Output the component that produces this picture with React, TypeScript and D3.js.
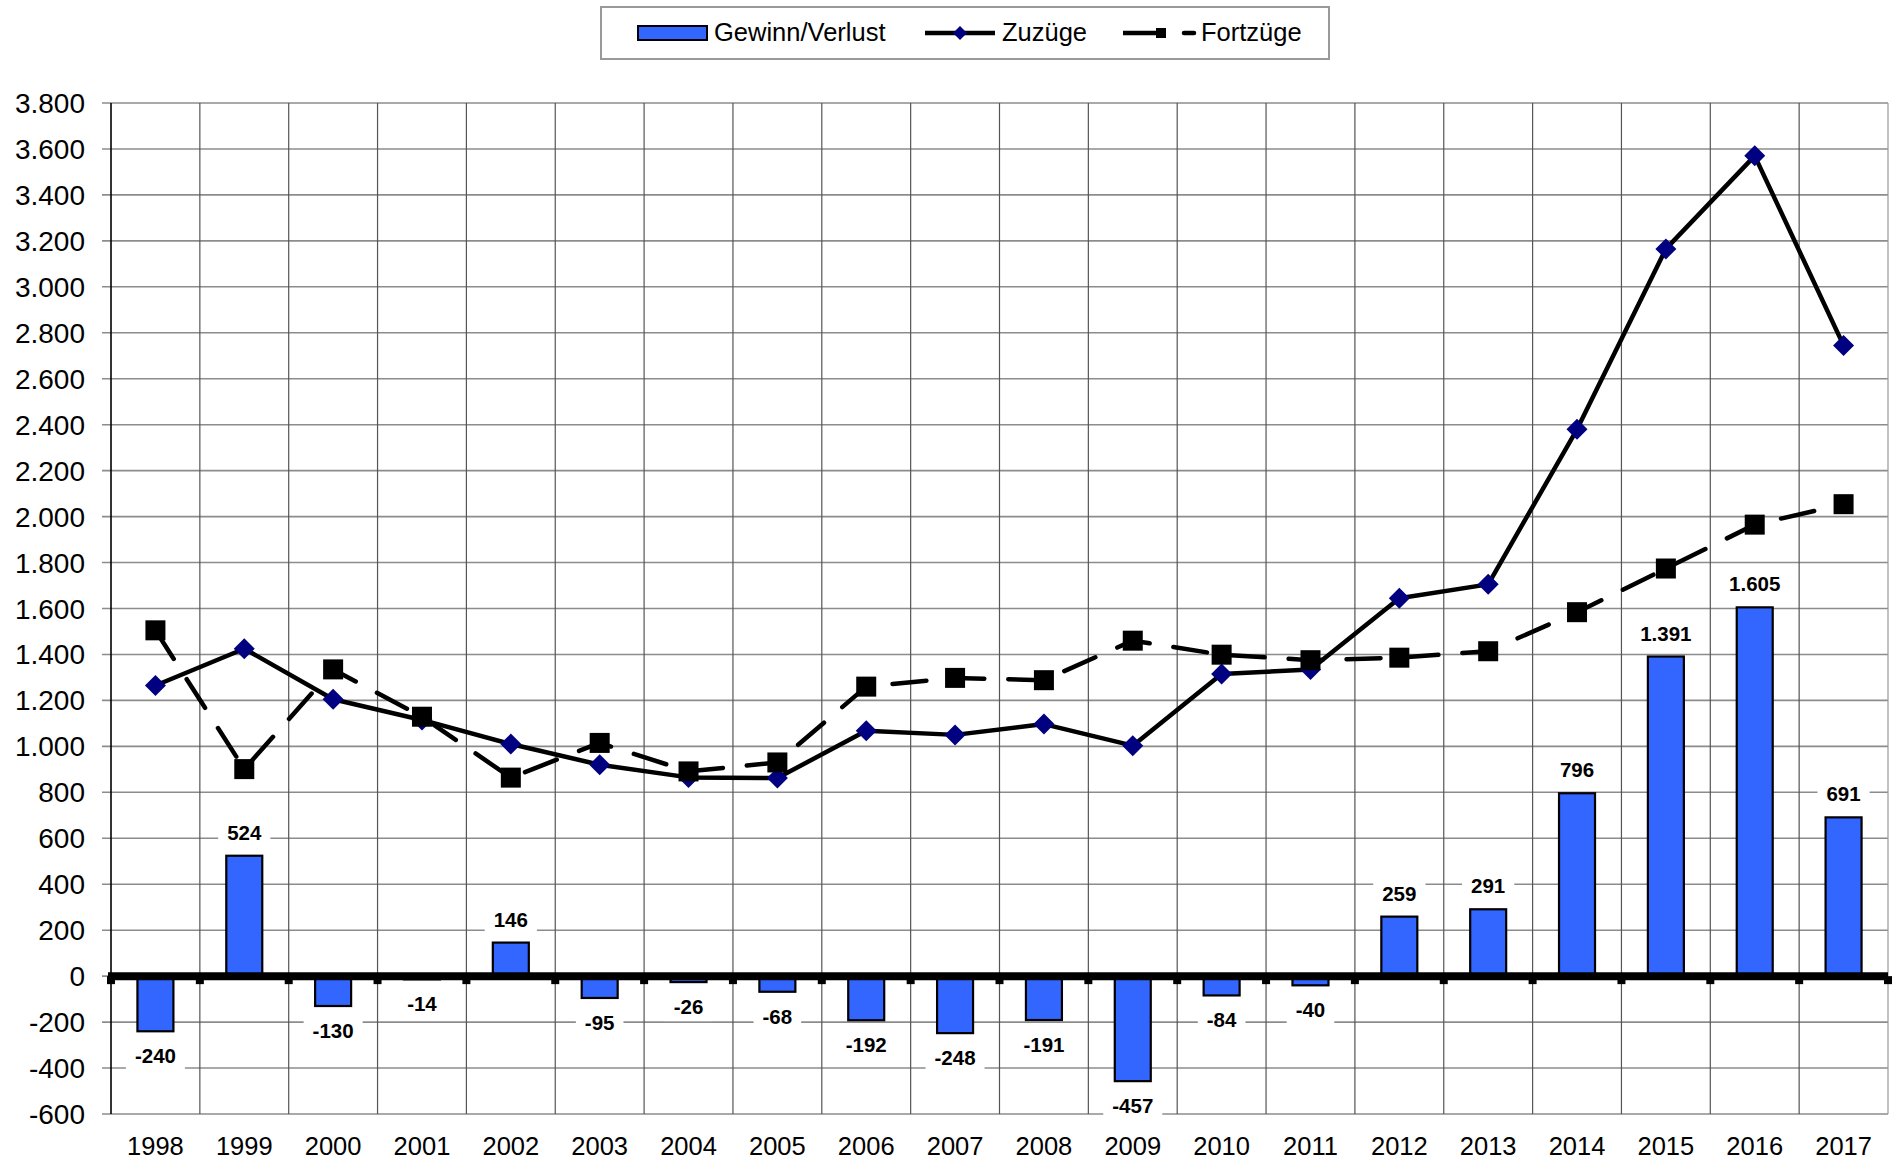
import React from "react";
import * as d3 from "d3";

const years = ["1998","1999","2000","2001","2002","2003","2004","2005","2006","2007","2008","2009","2010","2011","2012","2013","2014","2015","2016","2017"];
const gewinnVerlust = [-240,524,-130,-14,146,-95,-26,-68,-192,-248,-191,-457,-84,-40,259,291,796,1391,1605,691];
const zuzuege = [1265,1425,1205,1115,1010,920,865,862,1068,1050,1097,1003,1315,1335,1645,1705,2380,3165,3570,2745];
const fortzuege = [1505,901,1335,1129,864,1015,891,930,1260,1298,1288,1460,1399,1375,1386,1414,1584,1774,1965,2054];
const yTickValues = [-600,-400,-200,0,200,400,600,800,1000,1200,1400,1600,1800,2000,2200,2400,2600,2800,3000,3200,3400,3600,3800];
const legendLabels = ["Gewinn/Verlust", "Zuzüge", "Fortzüge"];

const W = 1899, H = 1163;
const FONT = "'Liberation Sans', Arial, Helvetica, sans-serif";

const locale = d3.formatLocale({ decimal: ",", thousands: ".", grouping: [3], currency: ["", " €"], minus: "-" });
const fmt = locale.format(",d");

function estWidth(s: string, size: number) {
  let w = 0;
  for (const c of s) {
    if (c === "-") w += 0.333;
    else if (c === ".") w += 0.278;
    else w += 0.556;
  }
  return w * size;
}

export default function App() {
  const x = d3.scaleBand<string>().domain(years).range([111, 1888]).padding(0);
  const y = d3.scaleLinear().domain([-600, 3800]).range([1114, 103]);
  const bw = x.bandwidth();
  const barW = bw * 0.405;
  const cx = (i: number) => (x(years[i]) as number) + bw / 2;
  const boundaries = d3.range(0, years.length + 1).map((i) => 111 + i * bw);

  const line = d3.line<number>().x((_, i) => cx(i)).y((d) => y(d));

  const y0 = y(0);

  return (
    <div style={{ position: "absolute", left: 0, top: 0 }}>
      <svg width={W} height={H} style={{ display: "block", background: "#fff" }}>
        <rect x={0} y={0} width={W} height={H} fill="#fff" />
        {/* horizontal gridlines */}
        {yTickValues.map((v) => (
          <line key={"hg" + v} x1={102} x2={1888} y1={y(v)} y2={y(v)} stroke="#8c8c8c" strokeWidth={1.6} />
        ))}
        {/* vertical gridlines */}
        {boundaries.slice(1).map((b, i) => (
          <line key={"vg" + i} x1={b} x2={b} y1={y(3800)} y2={y(-600)} stroke={i === boundaries.length - 2 ? "#999" : "#555"} strokeWidth={1.2} />
        ))}
        {/* y axis */}
        <line x1={111} x2={111} y1={y(3800)} y2={y(-600)} stroke="#000" strokeWidth={1.6} />
        {yTickValues.map((v) => (
          <text key={"yl" + v} x={85} y={y(v) + 10} textAnchor="end" fontFamily={FONT} fontSize={28} fill="#000">
            {fmt(v)}
          </text>
        ))}
        {/* bars */}
        {gewinnVerlust.map((v, i) => (
          <rect key={"b" + i} x={cx(i) - barW / 2} y={Math.min(y(v), y0)} width={barW} height={Math.abs(y(v) - y0)} fill="#3366FF" stroke="#000" strokeWidth={2.2} />
        ))}
        {/* zero axis */}
        <line x1={108} x2={1888} y1={y0} y2={y0} stroke="#000" strokeWidth={8} />
        {boundaries.map((b, i) => (
          <rect key={"t" + i} x={b - 4} y={y0} width={8} height={8} fill="#000" />
        ))}
        {/* x labels */}
        {years.map((yr, i) => (
          <text key={"xl" + yr} x={cx(i)} y={1155} textAnchor="middle" fontFamily={FONT} fontSize={25.5} fill="#000">
            {yr}
          </text>
        ))}
        {/* Zuzüge */}
        <path d={line(zuzuege) as string} fill="none" stroke="#000" strokeWidth={4.5} strokeLinejoin="round" />
        {zuzuege.map((v, i) => (
          <path key={"dm" + i} d={`M${cx(i)},${y(v) - 10.5}L${cx(i) + 10.5},${y(v)}L${cx(i)},${y(v) + 10.5}L${cx(i) - 10.5},${y(v)}Z`} fill="#000080" />
        ))}
        {/* Fortzüge */}
        <path d={line(fortzuege) as string} fill="none" stroke="#000" strokeWidth={4.5} strokeDasharray="34,24" strokeLinecap="round" strokeLinejoin="round" />
        {fortzuege.map((v, i) => (
          <rect key={"sq" + i} x={cx(i) - 10} y={y(v) - 10} width={20} height={20} fill="#000" />
        ))}
        {/* data labels */}
        {gewinnVerlust.map((v, i) => {
          const s = fmt(v);
          const ly = v >= 0 ? y(v) - 23 : y(v) + 25;
          const tw = estWidth(s, 20.5);
          return (
            <g key={"dl" + i}>
              <rect x={cx(i) - tw / 2 - 9} y={ly - 14} width={tw + 18} height={28} fill="#fff" />
              <text x={cx(i)} y={ly + 7} textAnchor="middle" fontFamily={FONT} fontSize={20.5} fontWeight="bold" fill="#000">
                {s}
              </text>
            </g>
          );
        })}
        {/* legend */}
        <rect x={601} y={7} width={728} height={52} fill="#fff" stroke="#999" strokeWidth={2} />
        <rect x={638} y={26} width={69} height={14} fill="#3366FF" stroke="#000" strokeWidth={2} />
        <text x={714} y={41} fontFamily={FONT} fontSize={25.5} fill="#000">{legendLabels[0]}</text>
        <line x1={925} x2={995} y1={33} y2={33} stroke="#000" strokeWidth={4.5} />
        <path d="M960,26L967,33L960,40L953,33Z" fill="#000080" />
        <text x={1002} y={41} fontFamily={FONT} fontSize={25.5} fill="#000">{legendLabels[1]}</text>
        <line x1={1123} x2={1158} y1={33} y2={33} stroke="#000" strokeWidth={4.5} />
        <rect x={1156} y={28} width={10} height={10} fill="#000" />
        <line x1={1184} x2={1194} y1={33} y2={33} stroke="#000" strokeWidth={4.5} strokeLinecap="round" />
        <text x={1201} y={41} fontFamily={FONT} fontSize={25.5} fill="#000">{legendLabels[2]}</text>
      </svg>
    </div>
  );
}
